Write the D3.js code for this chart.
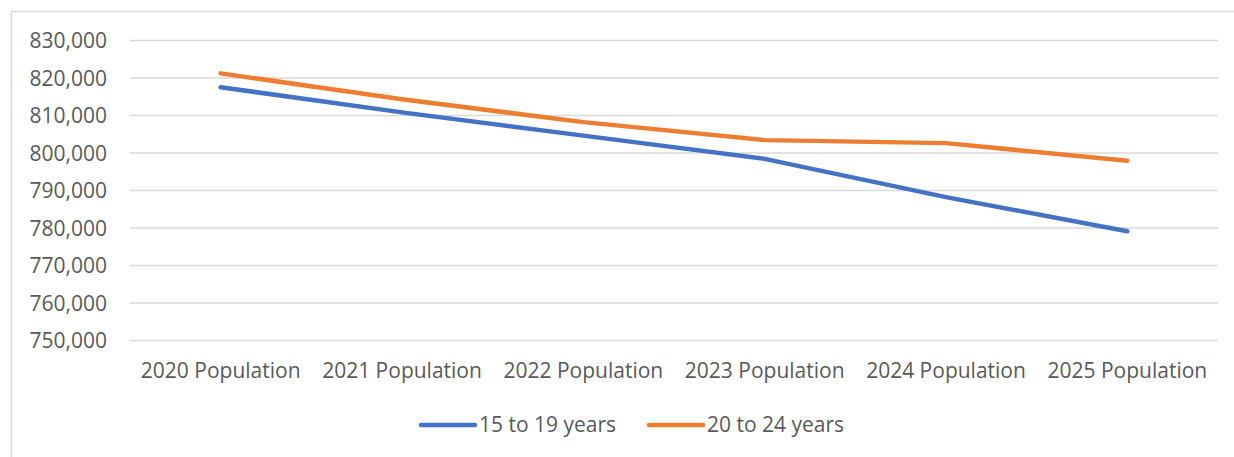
<!DOCTYPE html>
<html>
<head>
<meta charset="utf-8">
<script src="https://cdn.jsdelivr.net/npm/d3@7"></script>
<style>
  html, body { margin: 0; padding: 0; background: #fff; }
  svg { display: block; font-family: "Open Sans", sans-serif; }
</style>
</head>
<body>
<svg id="chart"></svg>
<script>
// data
const categories = ['2020 Population', '2021 Population', '2022 Population',
                    '2023 Population', '2024 Population', '2025 Population'];
const age15to19 = [817400, 810700, 804500, 798300, 788100, 779000];
const age20to24 = [821100, 814200, 808100, 803300, 802500, 797800];
const seriesNames = ['15 to 19 years', '20 to 24 years'];
const yTicks = [750000, 760000, 770000, 780000, 790000, 800000, 810000, 820000, 830000];

const width = 1234;
const height = 457;
const margin = { top: 40, right: 16, bottom: 117, left: 130 };
const textColor = '#595959';
const fontSize = 21;

const svg = d3.select('#chart')
    .attr('width', width)
    .attr('height', height);

// chart area border
svg.append('rect')
    .attr('x', 11.5).attr('y', 11.5)
    .attr('width', width).attr('height', height)
    .attr('fill', 'none')
    .attr('stroke', '#d9d9d9')
    .attr('stroke-width', 1.5);

const x = d3.scaleBand()
    .domain(categories)
    .range([margin.left, width - margin.right]);

const y = d3.scaleLinear()
    .domain([750000, 830000])
    .range([height - margin.bottom, margin.top]);

// gridlines + y labels
const yAxis = d3.axisLeft(y)
    .tickValues(yTicks)
    .tickSize(-(width - margin.right - margin.left))
    .tickPadding(23)
    .tickFormat(d3.format(','));

const gy = svg.append('g')
    .attr('transform', `translate(${margin.left},0)`)
    .call(yAxis);
gy.select('.domain').remove();
gy.selectAll('.tick line')
    .attr('stroke', '#d9d9d9')
    .attr('stroke-width', 1.3);
gy.selectAll('.tick text')
    .attr('fill', textColor)
    .attr('font-size', fontSize)
    .attr('font-family', '"Open Sans", sans-serif')
    .attr('dy', '0.36em');

// x labels
const xAxis = d3.axisBottom(x).tickSize(0).tickPadding(0);
const gx = svg.append('g')
    .attr('transform', `translate(0,${height - margin.bottom})`)
    .call(xAxis);
gx.select('.domain').remove();
gx.selectAll('.tick text')
    .attr('fill', textColor)
    .attr('font-size', fontSize)
    .attr('font-family', '"Open Sans", sans-serif')
    .attr('dy', null)
    .attr('y', 38);

const line = d3.line()
    .x((d, i) => x(categories[i]) + x.bandwidth() / 2)
    .y(d => y(d));

const colors = ['#4472C4', '#ED7D31'];
[age15to19, age20to24].forEach((vals, i) => {
    svg.append('path')
        .datum(vals)
        .attr('d', line)
        .attr('fill', 'none')
        .attr('stroke', colors[i])
        .attr('stroke-width', 4.5)
        .attr('stroke-linecap', 'round')
        .attr('stroke-linejoin', 'round');
});

// legend
const legendX = [421, 649];
const legendY = 425;
const legend = svg.append('g');
seriesNames.forEach((name, i) => {
    legend.append('line')
        .attr('x1', legendX[i]).attr('x2', legendX[i] + 54)
        .attr('y1', legendY).attr('y2', legendY)
        .attr('stroke', colors[i])
        .attr('stroke-width', 4.5)
        .attr('stroke-linecap', 'round');
    legend.append('text')
        .attr('x', legendX[i] + 58)
        .attr('y', legendY + 7)
        .attr('fill', textColor)
        .attr('font-size', fontSize)
        .text(name);
});
</script>
</body>
</html>
